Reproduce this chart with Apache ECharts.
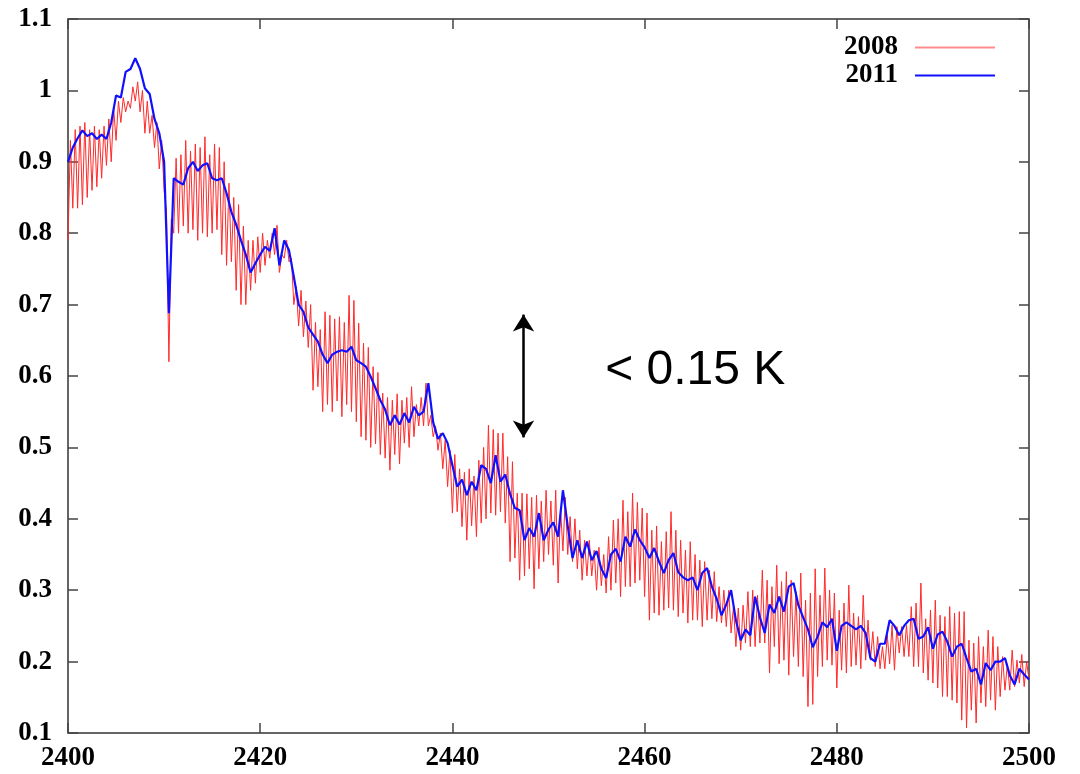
<!DOCTYPE html>
<html>
<head>
<meta charset="utf-8">
<script src="https://cdn.jsdelivr.net/npm/echarts@6/dist/echarts.min.js"></script>
<style>
html,body{margin:0;padding:0;background:#fff;}
#chart{width:1080px;height:774px;}
</style>
</head>
<body>
<div id="chart"></div>
<script>
// ---- Data ----
const xStart = 2400;
const xEnd = 2500;
const xTicks = [2400, 2420, 2440, 2460, 2480, 2500];
const yTicks = [0.1, 0.2, 0.3, 0.4, 0.5, 0.6, 0.7, 0.8, 0.9, 1.0, 1.1];
const seriesNames = ['2008', '2011'];

// 2011 series, sampled every 0.5 from 2400 to 2500
const blueStep = 0.5;
const blue2011 = [
  0.90,0.92,0.933,0.944,0.936,0.94,0.932,0.938,0.932,0.955,
  0.993,0.99,1.026,1.03,1.045,1.03,1.003,0.995,0.96,0.94,
  0.90,0.688,0.877,0.872,0.868,0.891,0.90,0.887,0.895,0.898,
  0.877,0.874,0.877,0.856,0.83,0.812,0.79,0.77,0.745,0.758,
  0.77,0.781,0.775,0.807,0.755,0.79,0.776,0.739,0.70,0.69,
  0.668,0.658,0.648,0.63,0.618,0.63,0.634,0.636,0.634,0.641,
  0.622,0.618,0.613,0.599,0.583,0.566,0.553,0.531,0.545,0.532,
  0.548,0.535,0.557,0.545,0.55,0.59,0.535,0.512,0.52,0.506,
  0.475,0.445,0.455,0.433,0.452,0.44,0.475,0.47,0.45,0.489,
  0.452,0.462,0.435,0.415,0.412,0.37,0.387,0.375,0.408,0.37,
  0.385,0.395,0.375,0.44,0.39,0.345,0.37,0.345,0.368,0.342,
  0.355,0.33,0.317,0.35,0.358,0.34,0.375,0.361,0.385,0.37,
  0.36,0.345,0.359,0.34,0.324,0.342,0.352,0.325,0.318,0.314,
  0.318,0.30,0.324,0.331,0.305,0.288,0.265,0.28,0.30,0.258,
  0.23,0.245,0.237,0.291,0.262,0.24,0.28,0.268,0.291,0.27,
  0.305,0.31,0.279,0.262,0.245,0.22,0.235,0.255,0.248,0.26,
  0.215,0.25,0.255,0.25,0.245,0.25,0.24,0.205,0.2,0.225,
  0.225,0.258,0.25,0.237,0.25,0.258,0.26,0.232,0.235,0.248,
  0.218,0.238,0.242,0.228,0.207,0.221,0.225,0.205,0.186,0.19,
  0.168,0.198,0.188,0.2,0.2,0.205,0.181,0.168,0.19,0.182,
  0.175
];

// 2008 series: ripple troughs at 2400, 2400.5, ... 2500
const redStep = 0.5;
const red2008Low = [
  0.79,0.835,0.835,0.84,0.85,0.86,0.865,0.877,0.895,0.9,0.93,0.955,0.97,0.975,0.985,0.97,0.94,0.94,0.92,0.89,
  0.86,0.62,0.80,0.80,0.81,0.80,0.805,0.79,0.80,0.795,0.80,0.805,0.77,0.755,0.76,0.72,0.70,0.70,0.72,0.73,
  0.745,0.755,0.765,0.77,0.745,0.765,0.76,0.70,0.67,0.655,0.64,0.58,0.585,0.55,0.56,0.55,0.565,0.543,0.56,0.55,
  0.536,0.515,0.51,0.50,0.505,0.49,0.485,0.468,0.49,0.477,0.506,0.50,0.515,0.53,0.53,0.53,0.515,0.496,0.47,0.445,
  0.408,0.41,0.389,0.37,0.39,0.375,0.394,0.40,0.408,0.405,0.41,0.394,0.34,0.345,0.314,0.32,0.33,0.302,0.33,0.34,
  0.35,0.335,0.31,0.355,0.35,0.34,0.33,0.314,0.32,0.32,0.30,0.306,0.296,0.30,0.31,0.291,0.305,0.305,0.31,0.314,
  0.291,0.258,0.268,0.265,0.272,0.275,0.272,0.263,0.268,0.254,0.258,0.258,0.249,0.258,0.26,0.256,0.254,0.249,0.24,0.221,
  0.216,0.226,0.221,0.221,0.226,0.226,0.184,0.221,0.197,0.202,0.181,0.207,0.193,0.179,0.137,0.14,0.179,0.193,0.202,0.195,
  0.163,0.188,0.184,0.193,0.195,0.19,0.202,0.202,0.193,0.19,0.19,0.197,0.188,0.212,0.207,0.207,0.193,0.193,0.184,0.174,
  0.17,0.163,0.151,0.151,0.146,0.142,0.118,0.107,0.132,0.114,0.142,0.137,0.146,0.132,0.151,0.16,0.16,0.165,0.17,0.165,
  0.175
];
// 2008 series: ripple crests at 2400.25, 2400.75, ... 2499.75
const red2008High = [
  0.93,0.945,0.95,0.955,0.945,0.95,0.945,0.95,0.96,0.975,0.985,0.99,0.985,1.005,1.012,1.0,0.985,0.965,0.955,0.93,
  0.83,0.82,0.905,0.91,0.93,0.915,0.925,0.92,0.935,0.91,0.925,0.92,0.90,0.87,0.85,0.84,0.81,0.79,0.79,0.795,
  0.80,0.79,0.80,0.811,0.77,0.79,0.765,0.725,0.72,0.705,0.70,0.675,0.665,0.69,0.685,0.68,0.683,0.675,0.713,0.706,
  0.674,0.646,0.64,0.613,0.605,0.576,0.57,0.566,0.575,0.566,0.57,0.585,0.56,0.57,0.59,0.545,0.53,0.52,0.51,0.496,
  0.49,0.47,0.465,0.47,0.46,0.482,0.50,0.531,0.525,0.52,0.52,0.487,0.48,0.436,0.436,0.435,0.43,0.433,0.425,0.44,
  0.425,0.44,0.415,0.43,0.403,0.40,0.384,0.37,0.37,0.356,0.36,0.35,0.375,0.398,0.40,0.426,0.41,0.436,0.423,0.415,
  0.408,0.384,0.39,0.368,0.382,0.41,0.384,0.37,0.356,0.368,0.35,0.342,0.34,0.328,0.326,0.305,0.30,0.30,0.277,0.275,
  0.279,0.298,0.30,0.293,0.328,0.314,0.305,0.335,0.312,0.326,0.314,0.298,0.324,0.286,0.296,0.33,0.293,0.331,0.30,0.296,
  0.272,0.282,0.307,0.268,0.263,0.293,0.258,0.242,0.235,0.221,0.237,0.251,0.249,0.249,0.251,0.277,0.282,0.31,0.26,0.272,
  0.286,0.265,0.263,0.277,0.268,0.27,0.27,0.23,0.226,0.235,0.221,0.244,0.235,0.221,0.207,0.197,0.216,0.202,0.21,0.2
];

// Annotation (data coordinates)
const arrowX = 2447.4;
const arrowYTop = 0.686;
const arrowYBottom = 0.514;
const annotationText = '< 0.15 K';
const annotationPos = [2455.9, 0.607];

// ---- Build series data ----
const blueData = blue2011.map((v, i) => [xStart + i * blueStep, v]);
const redData = [];
for (let i = 0; i < red2008Low.length; i++) {
  redData.push([xStart + i * redStep, red2008Low[i]]);
  if (i < red2008High.length) redData.push([xStart + i * redStep + redStep / 2, red2008High[i]]);
}

const serif = '"Liberation Serif", "Times New Roman", serif';
const tickStyle = { inside: true, length: 10, lineStyle: { color: '#444', width: 1.5 } };
const redColor = '#ff2a2a';
const blueColor = '#1010ff';

const chart = echarts.init(document.getElementById('chart'), null, { renderer: 'canvas' });
const option = {
  animation: false,
  backgroundColor: '#fff',
  grid: { left: 68, right: 51, top: 19, bottom: 41, show: true, borderColor: '#333', borderWidth: 1.5, backgroundColor: 'transparent' },
  legend: {
    orient: 'vertical',
    right: 80,
    top: 29,
    align: 'right',
    icon: 'rect',
    itemWidth: 80,
    itemHeight: 2,
    itemGap: 1,
    data: [
      { name: seriesNames[0], itemStyle: { color: '#ff8c8c' } },
      { name: seriesNames[1], itemStyle: { color: blueColor } }
    ],
    textStyle: { fontFamily: serif, fontWeight: 'bold', fontSize: 27, color: '#000', padding: [0, 12, 0, 0] }
  },
  xAxis: [
    {
      type: 'value', min: xStart, max: xEnd, interval: 20,
      axisLine: { show: false },
      axisTick: tickStyle,
      splitLine: { show: false },
      axisLabel: { fontFamily: serif, fontWeight: 'bold', fontSize: 27, color: '#000', margin: 12, formatter: v => String(v) }
    },
    {
      type: 'value', min: xStart, max: xEnd, interval: 20, position: 'top',
      axisLine: { show: false }, axisTick: tickStyle, splitLine: { show: false }, axisLabel: { show: false }
    }
  ],
  yAxis: [
    {
      type: 'value', min: 0.1, max: 1.1, interval: 0.1,
      axisLine: { show: false },
      axisTick: tickStyle,
      splitLine: { show: false },
      axisLabel: {
        fontFamily: serif, fontWeight: 'bold', fontSize: 27, color: '#000', margin: 16,
        formatter: v => String(Math.round(v * 10) / 10)
      }
    },
    {
      type: 'value', min: 0.1, max: 1.1, interval: 0.1, position: 'right',
      axisLine: { show: false }, axisTick: tickStyle, splitLine: { show: false }, axisLabel: { show: false }
    }
  ],
  series: [
    {
      name: seriesNames[0], type: 'line', data: redData, symbol: 'none', showSymbol: false,
      lineStyle: { color: redColor, width: 1 }, itemStyle: { color: redColor }, z: 2
    },
    {
      name: seriesNames[1], type: 'line', data: blueData, symbol: 'none', showSymbol: false,
      lineStyle: { color: blueColor, width: 2.2 }, itemStyle: { color: blueColor }, z: 3,
      markLine: {
        silent: true,
        symbol: ['arrow', 'arrow'],
        symbolSize: [16, 17],
        label: { show: false },
        lineStyle: { color: '#000', width: 2.5, type: 'solid' },
        data: [[{ coord: [arrowX, arrowYTop] }, { coord: [arrowX, arrowYBottom] }]]
      }
    }
  ]
};
chart.setOption(option);

const p = chart.convertToPixel({ xAxisIndex: 0, yAxisIndex: 0 }, annotationPos);
chart.setOption({
  graphic: [{
    type: 'text', x: p[0], y: p[1], z: 100,
    style: { text: annotationText, font: '48px "Liberation Sans", Arial, sans-serif', fill: '#000', textVerticalAlign: 'middle', textAlign: 'left' }
  }]
});
</script>
</body>
</html>
